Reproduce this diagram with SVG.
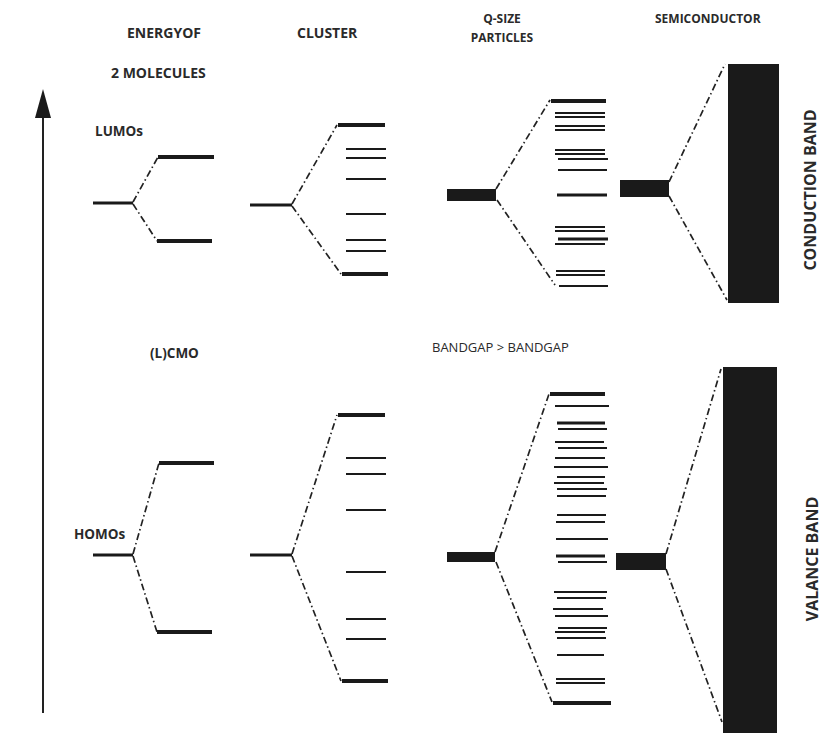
<svg xmlns="http://www.w3.org/2000/svg" width="840" height="733" viewBox="0 0 840 733">
<style>
.hd{font-family:"Open Sans","Liberation Sans",sans-serif;font-weight:bold;font-size:14px;fill:#2a2a2a}
.hs{font-family:"Open Sans","Liberation Sans",sans-serif;font-weight:bold;font-size:12px;fill:#2a2a2a}
.lb{font-family:"Open Sans","Liberation Sans",sans-serif;font-weight:bold;font-size:13.5px;fill:#2a2a2a}
.rg{font-family:"Open Sans","Liberation Sans",sans-serif;font-size:13px;fill:#2a2a2a}
.rot{font-family:"Open Sans","Liberation Sans",sans-serif;font-weight:bold;font-size:16px;fill:#2a2a2a}
.dd{stroke:#222;stroke-width:1.7;fill:none;stroke-dasharray:7 3 1.5 3}
.th{stroke:#1a1a1a;stroke-width:4;fill:none}
.md{stroke:#1a1a1a;stroke-width:3;fill:none}
.tn{stroke:#1a1a1a;stroke-width:2.2;fill:none}
.blk{fill:#1a1a1a}
</style>
<rect width="840" height="733" fill="#fff"/>

<g id="labels">
<text class="hd" x="127" y="38">ENERGYOF</text>
<text class="hd" x="111" y="78">2 MOLECULES</text>
<text class="hd" x="297" y="38">CLUSTER</text>
<text class="hs" x="502" y="23" text-anchor="middle">Q-SIZE</text>
<text class="hs" x="502" y="42" text-anchor="middle">PARTICLES</text>
<text class="hs" x="655" y="23">SEMICONDUCTOR</text>
<text class="lb" x="95" y="136">LUMOs</text>
<text class="lb" x="150" y="358">(L)CMO</text>
<text class="rg" x="432" y="352">BANDGAP &gt; BANDGAP</text>
<text class="lb" x="74" y="539">HOMOs</text>
<text class="rot" transform="translate(816,190) rotate(-90)" text-anchor="middle">CONDUCTION BAND</text>
<text class="rot" transform="translate(818,559) rotate(-90)" text-anchor="middle">VALANCE BAND</text>
</g>

<g id="energy-axis">
<line x1="43" y1="112" x2="43" y2="713" stroke="#222" stroke-width="2"/>
<polygon points="43,89 35,118 51,118" class="blk"/>
</g>

<g id="molecule-lumo">
<line class="md" x1="93" y1="203" x2="133" y2="203"/>
<line class="th" x1="158" y1="157" x2="214" y2="157"/>
<line class="th" x1="157" y1="241" x2="212" y2="241"/>
</g>
<g id="molecule-homo">
<line class="md" x1="93" y1="555" x2="133" y2="555"/>
<line class="th" x1="159" y1="463" x2="214" y2="463"/>
<line class="th" x1="157" y1="632" x2="212" y2="632"/>
</g>

<g id="cluster-upper">
<line class="md" x1="250" y1="205" x2="292" y2="205"/>
<line class="th" x1="338" y1="125" x2="385" y2="125"/>
<line class="tn" x1="346" y1="149" x2="386" y2="149"/>
<line class="tn" x1="346" y1="158" x2="386" y2="158"/>
<line class="tn" x1="346" y1="179" x2="386" y2="179"/>
<line class="tn" x1="346" y1="214" x2="386" y2="214"/>
<line class="tn" x1="346" y1="240" x2="386" y2="240"/>
<line class="tn" x1="346" y1="251" x2="386" y2="251"/>
<line class="th" x1="342" y1="274" x2="388" y2="274"/>
</g>
<g id="cluster-lower">
<line class="md" x1="250" y1="555" x2="292" y2="555"/>
<line class="th" x1="338" y1="415" x2="385" y2="415"/>
<line class="tn" x1="346" y1="458" x2="386" y2="458"/>
<line class="tn" x1="346" y1="474" x2="386" y2="474"/>
<line class="tn" x1="346" y1="510" x2="386" y2="510"/>
<line class="tn" x1="346" y1="572" x2="386" y2="572"/>
<line class="tn" x1="346" y1="619" x2="386" y2="619"/>
<line class="tn" x1="346" y1="639" x2="386" y2="639"/>
<line class="th" x1="342" y1="681" x2="388" y2="681"/>
</g>

<g id="qsize-upper">
<rect class="blk" x="447" y="189" width="49" height="12"/>
<line class="th" x1="551" y1="101" x2="606" y2="101"/>
<line class="tn" x1="555" y1="113" x2="605" y2="113"/>
<line class="tn" x1="555" y1="117" x2="605" y2="117"/>
<line class="tn" x1="555" y1="126" x2="605" y2="126"/>
<line class="tn" x1="555" y1="130" x2="605" y2="130"/>
<line class="tn" x1="555" y1="150" x2="605" y2="150"/>
<line class="tn" x1="555" y1="154" x2="605" y2="154"/>
<line class="tn" x1="558" y1="159" x2="608" y2="159"/>
<line class="tn" x1="558" y1="170" x2="607" y2="170"/>
<line class="md" x1="557" y1="195" x2="607" y2="195"/>
<line class="tn" x1="555" y1="227" x2="605" y2="227"/>
<line class="tn" x1="555" y1="231" x2="605" y2="231"/>
<line class="md" x1="558" y1="239" x2="608" y2="239"/>
<line class="tn" x1="555" y1="244" x2="605" y2="244"/>
<line class="tn" x1="556" y1="271" x2="605" y2="271"/>
<line class="tn" x1="556" y1="275" x2="605" y2="275"/>
<line class="tn" x1="559" y1="286" x2="608" y2="286"/>
</g>
<g id="qsize-lower">
<rect class="blk" x="447" y="552" width="48" height="10"/>
<line class="th" x1="550" y1="394" x2="605" y2="394"/>
<line class="tn" x1="555" y1="406" x2="609" y2="406"/>
<line class="md" x1="557" y1="423" x2="605" y2="423"/>
<line class="tn" x1="558" y1="429" x2="607" y2="429"/>
<line class="tn" x1="555" y1="442" x2="604" y2="442"/>
<line class="tn" x1="558" y1="448" x2="607" y2="448"/>
<line class="tn" x1="555" y1="458" x2="605" y2="458"/>
<line class="tn" x1="554" y1="467" x2="608" y2="467"/>
<line class="tn" x1="557" y1="477" x2="605" y2="477"/>
<line class="tn" x1="554" y1="483" x2="604" y2="483"/>
<line class="tn" x1="557" y1="489" x2="607" y2="489"/>
<line class="tn" x1="557" y1="496" x2="606" y2="496"/>
<line class="tn" x1="557" y1="515" x2="606" y2="515"/>
<line class="tn" x1="556" y1="522" x2="605" y2="522"/>
<line class="tn" x1="556" y1="539" x2="608" y2="539"/>
<line class="md" x1="556" y1="556" x2="605" y2="556"/>
<line class="tn" x1="558" y1="562" x2="607" y2="562"/>
<line class="tn" x1="554" y1="592" x2="607" y2="592"/>
<line class="tn" x1="557" y1="598" x2="606" y2="598"/>
<line class="tn" x1="553" y1="609" x2="603" y2="609"/>
<line class="tn" x1="555" y1="616" x2="608" y2="616"/>
<line class="tn" x1="558" y1="628" x2="607" y2="628"/>
<line class="tn" x1="555" y1="632" x2="605" y2="632"/>
<line class="tn" x1="557" y1="638" x2="606" y2="638"/>
<line class="tn" x1="557" y1="655" x2="604" y2="655"/>
<line class="tn" x1="556" y1="679" x2="605" y2="679"/>
<line class="tn" x1="556" y1="683" x2="605" y2="683"/>
<line class="th" x1="553" y1="703" x2="611" y2="703"/>
</g>

<g id="semiconductor-upper">
<rect class="blk" x="620" y="180" width="49" height="17"/>
<rect class="blk" x="728" y="64" width="51" height="239"/>
</g>
<g id="semiconductor-lower">
<rect class="blk" x="616" y="553" width="50" height="17"/>
<rect class="blk" x="723" y="367" width="54" height="366"/>
</g>

<g id="connectors">
<line class="dd" x1="133" y1="202" x2="158" y2="157"/>
<line class="dd" x1="133" y1="204" x2="157" y2="241"/>
<line class="dd" x1="133" y1="554" x2="159" y2="463"/>
<line class="dd" x1="133" y1="556" x2="157" y2="632"/>
<line class="dd" x1="292" y1="204" x2="337" y2="125"/>
<line class="dd" x1="292" y1="206" x2="341" y2="274"/>
<line class="dd" x1="292" y1="554" x2="337" y2="415"/>
<line class="dd" x1="292" y1="556" x2="341" y2="681"/>
<line class="dd" x1="496" y1="189" x2="550" y2="100"/>
<line class="dd" x1="497" y1="200" x2="555" y2="285"/>
<line class="dd" x1="495" y1="552" x2="549" y2="394"/>
<line class="dd" x1="496" y1="562" x2="552" y2="702"/>
<line class="dd" x1="669" y1="182" x2="725" y2="64"/>
<line class="dd" x1="669" y1="196" x2="727" y2="300"/>
<line class="dd" x1="666" y1="554" x2="721" y2="369"/>
<line class="dd" x1="666" y1="569" x2="722" y2="722"/>
</g>
</svg>
